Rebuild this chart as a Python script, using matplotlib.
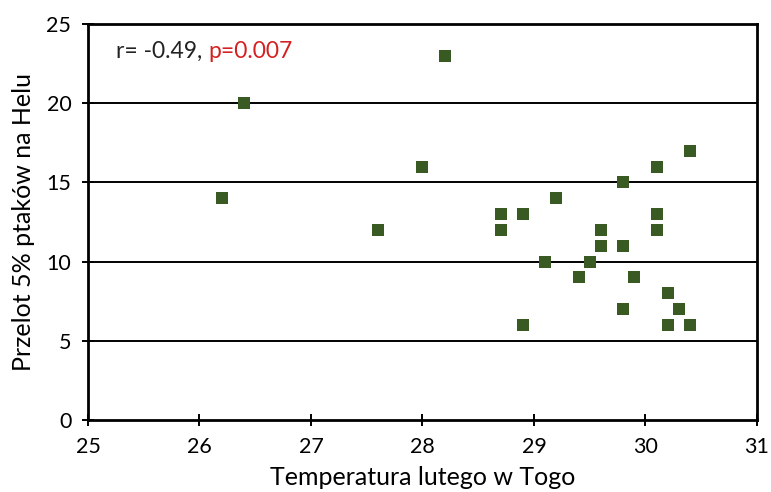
import matplotlib
matplotlib.use("Agg")
import matplotlib.pyplot as plt

temperature = [26.4, 28.2, 26.2, 27.6, 28.0, 28.7, 28.7, 28.9, 28.9, 29.2, 29.1, 29.4,
               29.5, 29.6, 29.6, 29.8, 29.8, 29.8, 29.9, 30.1, 30.1, 30.1, 30.2, 30.2,
               30.3, 30.4, 30.4]
przelot = [20, 23, 14, 12, 16, 13, 12, 13, 6, 14, 10, 9,
           10, 12, 11, 15, 11, 7, 9, 16, 13, 12, 8, 6,
           7, 17, 6]
x_ticks = [25, 26, 27, 28, 29, 30, 31]
y_ticks = [0, 5, 10, 15, 20, 25]

plt.rcParams['font.family'] = ['Lato', 'DejaVu Sans']

fig = plt.figure(figsize=(7.71, 4.92), dpi=100)
ax = fig.add_axes([0.1141, 0.1463, 0.8677, 0.8049])

for y in y_ticks[1:]:
    ax.axhline(y, color='black', lw=1.4, zorder=1)

ax.scatter(temperature, przelot, marker='s', s=64, color='#3a5a23', zorder=3, linewidths=0)

ax.set_xlim(25, 31)
ax.set_ylim(0, 25)
ax.set_xticks(x_ticks)
ax.set_yticks(y_ticks)
ax.tick_params(direction='inout', length=8, width=1.4, labelsize=15.5, pad=8)
for s in ax.spines.values():
    s.set_linewidth(2)
    s.set_color('black')

ax.set_xlabel('Temperatura lutego w Togo', fontsize=18, labelpad=7)
ax.set_ylabel('Przelot 5% ptaków na Helu', fontsize=18, labelpad=8)

t1 = ax.text(0.042, 0.93, 'r= -0.49, ', transform=ax.transAxes, fontsize=16.5,
             va='center', ha='left', color='#222222')
ax.annotate('p=0.007', xy=(1, 0.5), xycoords=t1, fontsize=16.5,
            va='center', ha='left', color='#d42020')

fig.savefig('out.png', dpi=100)
